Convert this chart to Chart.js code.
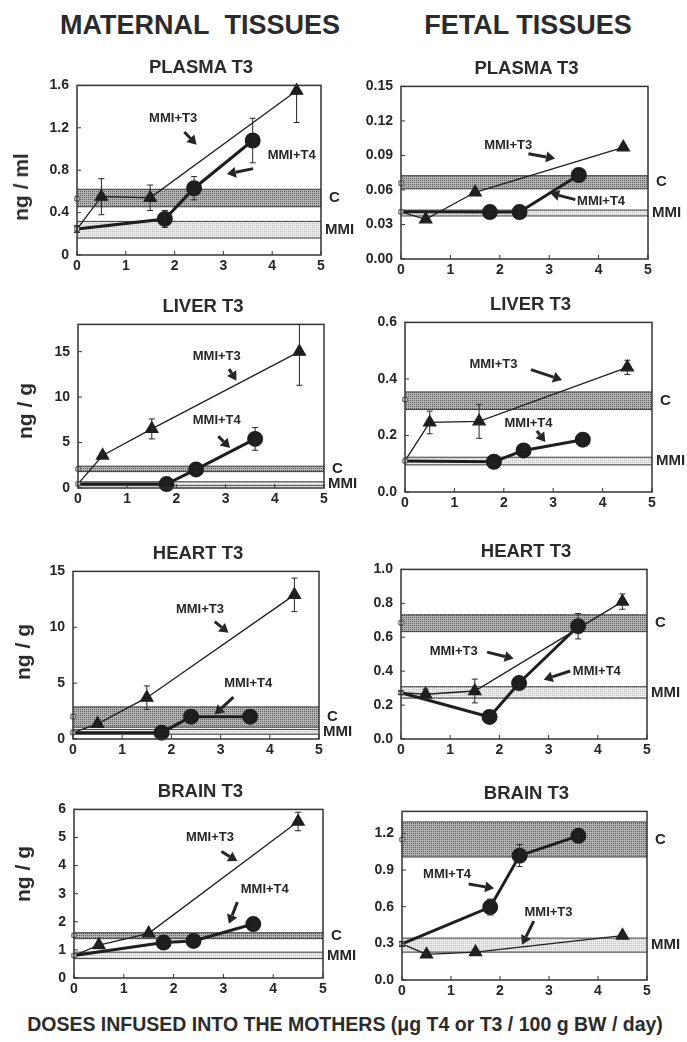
<!DOCTYPE html>
<html>
<head>
<meta charset="utf-8">
<script src="https://cdn.jsdelivr.net/npm/chart.js@4.4.1/dist/chart.umd.min.js"></script>
<style>
body { margin: 0; background: #fff; width: 687px; height: 1042px; position: relative; overflow: hidden;
       font-family: 'Liberation Sans', Arial, sans-serif; color: #2b2b2b; }
.t { position: absolute; font-weight: bold; white-space: nowrap; transform: translate(-50%, -50%); }
.yl { position: absolute; font-weight: bold; font-size: 21px; white-space: nowrap; transform: translate(-50%, -50%) rotate(-90deg); }
canvas { position: absolute; }
</style>
</head>
<body>
<div class="t" style="left:200px;top:25px;font-size:27px;">MATERNAL&nbsp; TISSUES</div>
<div class="t" style="left:528px;top:25px;font-size:27px;">FETAL TISSUES</div>
<div class="t" style="left:345px;top:1024px;font-size:19.5px;">DOSES INFUSED INTO THE MOTHERS (μg T4 or T3 / 100 g BW / day)</div>

<script>
// panel order: maternal plasma, fetal plasma, maternal liver, fetal liver,
// maternal heart, fetal heart, maternal brain, fetal brain
const panelTitles = ['PLASMA T3', 'PLASMA T3', 'LIVER T3', 'LIVER T3', 'HEART T3', 'HEART T3', 'BRAIN T3', 'BRAIN T3'];
const yAxisTitles = ['ng / ml', '', 'ng / g', '', 'ng / g', '', 'ng / g', ''];

const doseT3 = [0, 0.5, 1.5, 4.5];
const doseT4 = [0, 1.8, 2.4, 3.6];
const xTickLabels = ['0', '1', '2', '3', '4', '5'];

const t3Values = [
    [0.245, 0.55, 0.54, 1.55],
    [0.041, 0.0345, 0.058, 0.097],
    [0.45, 3.57, 6.5, 15.0],
    [0.11, 0.246, 0.25, 0.441],
    [0.57, 1.35, 3.7, 12.9],
    [0.273, 0.264, 0.283, 0.81],
    [0.8, 1.17, 1.59, 5.57],
    [0.295, 0.209, 0.228, 0.364]
];
const t3Errors = [
    [0.03, 0.17, 0.12, 0.30],
    [0, 0.002, 0.002, 0.002],
    [0, 0.3, 1.1, 3.7],
    [0, 0.04, 0.06, 0.025],
    [0, 0.3, 1.05, 1.5],
    [0.01, 0.03, 0.07, 0.045],
    [0, 0.05, 0.08, 0.33],
    [0.02, 0.01, 0.01, 0.01]
];
const t4Values = [
    [0.245, 0.34, 0.63, 1.08],
    [0.041, 0.0408, 0.0408, 0.073],
    [0.45, 0.43, 2.04, 5.4],
    [0.11, 0.107, 0.147, 0.185],
    [0.57, 0.57, 2.0, 2.0],
    [0.273, 0.13, 0.33, 0.665],
    [0.8, 1.26, 1.32, 1.92],
    [0.295, 0.597, 1.018, 1.18]
];
const t4Errors = [
    [0.03, 0.08, 0.11, 0.21],
    [0, 0.002, 0.004, 0.002],
    [0, 0.2, 0.3, 1.25],
    [0, 0.008, 0.01, 0.008],
    [0, 0.2, 0.6, 0.2],
    [0, 0.01, 0.035, 0.075],
    [0, 0.05, 0.05, 0.15],
    [0.02, 0.065, 0.09, 0.02]
];
const controlBands = [[0.455, 0.62], [0.061, 0.0724], [1.8, 2.4], [0.292, 0.354], [1.06, 2.87], [0.633, 0.732], [1.40, 1.61], [1.007, 1.294]];
const controlMeans = [0.53, 0.066, 2.1, 0.327, 2.0, 0.685, 1.52, 1.15];
const mmiBands = [[0.16, 0.317], [0.0374, 0.0425], [0.25, 0.68], [0.096, 0.123], [0.43, 0.86], [0.241, 0.308], [0.69, 0.92], [0.228, 0.343]];

const yMax = [1.6, 0.15, 18, 0.6, 15, 1.0, 6, 1.38];
const yTickLabels = [
    ['0', '0.4', '0.8', '1.2', '1.6'],
    ['0.00', '0.03', '0.06', '0.09', '0.12', '0.15'],
    ['0', '5', '10', '15'],
    ['0.0', '0.2', '0.4', '0.6'],
    ['0', '5', '10', '15'],
    ['0.0', '0.2', '0.4', '0.6', '0.8', '1.0'],
    ['0', '1', '2', '3', '4', '5', '6'],
    ['0.0', '0.3', '0.6', '0.9', '1.2']
];

// plot boxes on the page: left, right, top, bottom
const boxes = [
    [77, 321, 81, 255], [401, 648, 82, 259],
    [78, 324, 320, 488], [405, 652, 318, 492],
    [73, 319, 567, 739], [401, 647, 565, 739],
    [74, 323, 805, 978], [402, 647, 807, 980]
];
const yTitlePos = [[21, 187], null, [25, 411], null, [23, 652], null, [23, 874], null];

// arrow labels, in data units
const notes = [
    [{ text: 'MMI+T3', at: [1.97, 1.29], from: [2.2, 1.16], to: [2.45, 1.04] },
     { text: 'MMI+T4', at: [4.4, 0.94], from: [3.61, 0.815], to: [3.07, 0.763] }],
    [{ text: 'MMI+T3', at: [2.17, 0.0987], from: [2.58, 0.0915], to: [3.12, 0.0873] },
     { text: 'MMI+T4', at: [4.05, 0.0502], from: [3.53, 0.0516], to: [3.02, 0.0573] }],
    [{ text: 'MMI+T3', at: [2.82, 14.5], from: [3.07, 13.1], to: [3.22, 11.8] },
     { text: 'MMI+T4', at: [2.82, 7.4], from: [2.85, 5.7], to: [3.09, 4.4] }],
    [{ text: 'MMI+T3', at: [1.79, 0.453], from: [2.55, 0.433], to: [3.18, 0.396] },
     { text: 'MMI+T4', at: [2.5, 0.242], from: [2.67, 0.216], to: [2.84, 0.177] }],
    [{ text: 'MMI+T3', at: [2.58, 11.6], from: [2.88, 10.5], to: [3.16, 9.5] },
     { text: 'MMI+T4', at: [3.56, 4.97], from: [3.26, 3.74], to: [2.88, 2.2] }],
    [{ text: 'MMI+T3', at: [1.07, 0.516], from: [1.75, 0.512], to: [2.29, 0.474] },
     { text: 'MMI+T4', at: [3.98, 0.401], from: [3.44, 0.401], to: [2.9, 0.35] }],
    [{ text: 'MMI+T3', at: [2.73, 5.0], from: [2.96, 4.5], to: [3.28, 4.16] },
     { text: 'MMI+T4', at: [3.83, 3.16], from: [3.28, 2.7], to: [3.11, 1.93] }],
    [{ text: 'MMI+T4', at: [0.92, 0.865], from: [1.36, 0.785], to: [1.88, 0.75] },
     { text: 'MMI+T3', at: [2.99, 0.557], from: [2.69, 0.482], to: [2.45, 0.289] }]
];

const FONT = "'Liberation Sans', Arial, sans-serif";
const INK = '#262626';

function stipple(dark, light) {
    const c = document.createElement('canvas');
    c.width = 2; c.height = 2;
    const g = c.getContext('2d');
    g.fillStyle = light; g.fillRect(0, 0, 2, 2);
    g.fillStyle = dark; g.fillRect(0, 0, 1, 1);
    return g.createPattern(c, 'repeat');
}
const controlFill = stipple('#5c5c5c', '#b4b4b4');
const mmiFill = stipple('#bdbdbd', '#ececec');

const overlay = {
    id: 'overlay',
    afterDatasetsDraw(chart) {
        const { ctx, chartArea: a, scales: { x, y } } = chart;
        const i = chart.options.panelIndex;
        ctx.save();
        // error bars
        ctx.strokeStyle = INK;
        ctx.lineWidth = 1;
        chart.data.datasets.forEach(ds => {
            if (!ds.errors) return;
            ds.data.forEach((p, k) => {
                const e = ds.errors[k];
                if (!e) return;
                const px = x.getPixelForValue(p.x);
                const top = Math.max(a.top, y.getPixelForValue(p.y + e));
                const bot = Math.min(a.bottom, y.getPixelForValue(p.y - e));
                ctx.beginPath();
                ctx.moveTo(px, top); ctx.lineTo(px, bot);
                ctx.moveTo(px - 3, top); ctx.lineTo(px + 3, top);
                ctx.moveTo(px - 3, bot); ctx.lineTo(px + 3, bot);
                ctx.stroke();
            });
        });
        // frame and inward ticks
        ctx.lineWidth = 1.5;
        ctx.strokeStyle = '#333';
        ctx.strokeRect(a.left, a.top, a.right - a.left, a.bottom - a.top);
        ctx.lineWidth = 1;
        ctx.beginPath();
        x.ticks.forEach(t => {
            const px = x.getPixelForValue(t.value);
            ctx.moveTo(px, a.bottom); ctx.lineTo(px, a.bottom - 4);
        });
        y.ticks.forEach(t => {
            const py = y.getPixelForValue(t.value);
            ctx.moveTo(a.left, py); ctx.lineTo(a.left + 4, py);
        });
        ctx.stroke();
        // band labels
        ctx.fillStyle = INK;
        ctx.font = 'bold 15px ' + FONT;
        ctx.textAlign = 'left';
        ctx.textBaseline = 'middle';
        const cb = controlBands[i], mb = mmiBands[i];
        ctx.fillText('C', a.right + 8, y.getPixelForValue((cb[0] + cb[1]) / 2));
        ctx.fillText('MMI', a.right + 4, y.getPixelForValue((mb[0] + mb[1]) / 2));
        // arrow notes
        ctx.font = 'bold 13px ' + FONT;
        ctx.textAlign = 'center';
        notes[i].forEach(n => {
            ctx.fillText(n.text, x.getPixelForValue(n.at[0]), y.getPixelForValue(n.at[1]));
            const x0 = x.getPixelForValue(n.from[0]), y0 = y.getPixelForValue(n.from[1]);
            const x1 = x.getPixelForValue(n.to[0]), y1 = y.getPixelForValue(n.to[1]);
            const ang = Math.atan2(y1 - y0, x1 - x0);
            const hx = x1 - 9 * Math.cos(ang), hy = y1 - 9 * Math.sin(ang);
            ctx.lineWidth = 3;
            ctx.strokeStyle = INK;
            ctx.beginPath();
            ctx.moveTo(x0, y0); ctx.lineTo(hx, hy);
            ctx.stroke();
            ctx.beginPath();
            ctx.moveTo(x1, y1);
            ctx.lineTo(hx + 5.5 * Math.sin(ang), hy - 5.5 * Math.cos(ang));
            ctx.lineTo(hx - 5.5 * Math.sin(ang), hy + 5.5 * Math.cos(ang));
            ctx.closePath();
            ctx.fill();
        });
        ctx.restore();
    }
};

function bandSets(band, fill) {
    return [
        { data: [{ x: 0, y: band[0] }, { x: 5, y: band[0] }], borderColor: '#3a3a3a', borderWidth: 1,
          pointRadius: 0, fill: false, order: 10 },
        { data: [{ x: 0, y: band[1] }, { x: 5, y: band[1] }], borderColor: '#3a3a3a', borderWidth: 1,
          pointRadius: 0, fill: '-1', backgroundColor: fill, order: 10 }
    ];
}

function renderPanel(i) {
    const [l, r, t, b] = boxes[i];
    const padL = 55, padR = 60, padT = 12, padB = 28;
    const canvas = document.createElement('canvas');
    canvas.width = r - l + padL + padR;
    canvas.height = b - t + padT + padB;
    canvas.style.left = (l - padL) + 'px';
    canvas.style.top = (t - padT) + 'px';
    document.body.appendChild(canvas);

    const title = document.createElement('div');
    title.className = 't';
    title.style.cssText = `left:${(l + r) / 2 + 2}px;top:${t - 14}px;font-size:18.5px;`;
    title.textContent = panelTitles[i];
    document.body.appendChild(title);

    if (yAxisTitles[i]) {
        const yl = document.createElement('div');
        yl.className = 'yl';
        yl.style.left = yTitlePos[i][0] + 'px';
        yl.style.top = yTitlePos[i][1] + 'px';
        yl.textContent = yAxisTitles[i];
        document.body.appendChild(yl);
    }

    const tickFont = { family: FONT, size: 14, weight: 'bold' };

    new Chart(canvas, {
        type: 'line',
        data: {
            datasets: [
                ...bandSets(controlBands[i], controlFill),
                ...bandSets(mmiBands[i], mmiFill),
                {
                    label: 'MMI+T3',
                    data: doseT3.map((d, k) => ({ x: d, y: t3Values[i][k] })),
                    errors: t3Errors[i],
                    borderColor: '#1e1e1e', borderWidth: 1.3,
                    pointStyle: 'triangle', pointRadius: [0, 7, 7, 7],
                    pointBackgroundColor: '#1e1e1e', pointBorderColor: '#1e1e1e',
                    fill: false, clip: false, order: 2
                },
                {
                    label: 'MMI+T4',
                    data: doseT4.map((d, k) => ({ x: d, y: t4Values[i][k] })),
                    errors: t4Errors[i],
                    borderColor: '#1e1e1e', borderWidth: 3,
                    pointStyle: 'circle', pointRadius: [0, 6.5, 6.5, 6.5],
                    pointBackgroundColor: '#1e1e1e', pointBorderColor: '#1e1e1e',
                    fill: false, clip: false, order: 1
                },
                {
                    label: 'reference',
                    data: [{ x: 0, y: controlMeans[i] }, { x: 0, y: t3Values[i][0] }],
                    showLine: false, pointStyle: 'rect', pointRadius: 3,
                    pointBackgroundColor: '#fff', pointBorderColor: '#444', pointBorderWidth: 1,
                    clip: false, order: 0
                }
            ]
        },
        options: {
            panelIndex: i,
            responsive: false,
            animation: false,
            layout: { padding: { top: padT, right: padR, bottom: 0, left: 0 } },
            plugins: { legend: { display: false }, tooltip: { enabled: false } },
            scales: {
                x: {
                    type: 'linear', min: 0, max: 5,
                    afterBuildTicks: s => { s.ticks = xTickLabels.map(v => ({ value: parseFloat(v) })); },
                    afterFit: s => { s.height = padB; },
                    ticks: { font: tickFont, color: INK, padding: 3, maxRotation: 0, autoSkip: false,
                             callback: (v, k) => xTickLabels[k] },
                    grid: { display: false, drawTicks: false },
                    border: { display: false }
                },
                y: {
                    type: 'linear', min: 0, max: yMax[i],
                    afterBuildTicks: s => { s.ticks = yTickLabels[i].map(v => ({ value: parseFloat(v) })); },
                    afterFit: s => { s.width = padL; },
                    ticks: { font: tickFont, color: INK, padding: 8, autoSkip: false,
                             callback: (v, k) => yTickLabels[i][k] },
                    grid: { display: false, drawTicks: false },
                    border: { display: false }
                }
            }
        },
        plugins: [overlay]
    });
}

for (let i = 0; i < boxes.length; i++) renderPanel(i);
</script>
</body>
</html>
